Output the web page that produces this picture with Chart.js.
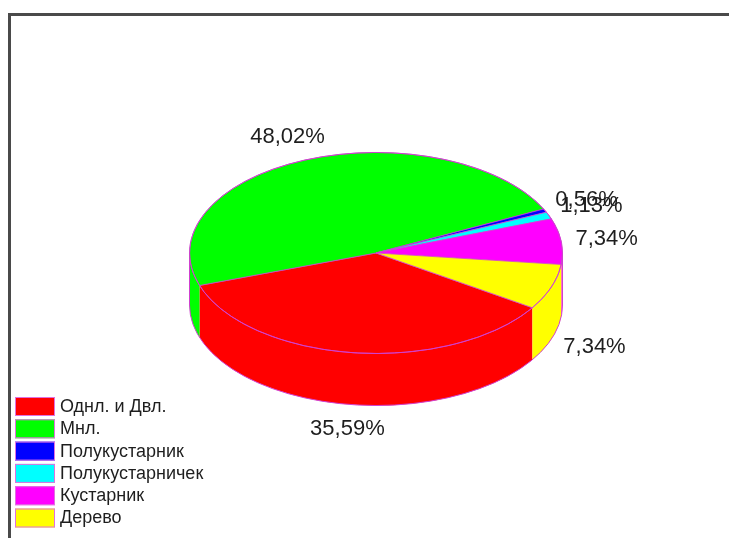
<!DOCTYPE html>
<html lang="ru">
<head>
<meta charset="utf-8">
<title>Жизненные формы</title>
<script src="https://cdn.jsdelivr.net/npm/chart.js@4.4.0/dist/chart.umd.min.js"></script>
<style>
  html, body { margin: 0; padding: 0; background: #fff; }
  #wrap { width: 729px; height: 538px; }
</style>
</head>
<body>
<div id="wrap"><canvas id="lifeForms" width="729" height="538"></canvas></div>
<script>
// Доли жизненных форм, %
const categories = ['Однл. и Двл.', 'Мнл.', 'Полукустарник', 'Полукустарничек', 'Кустарник', 'Дерево'];
const shares = [35.59, 48.02, 0.56, 1.13, 7.34, 7.34];
const sliceColors = ['#ff0000', '#00ff00', '#0000ff', '#00ffff', '#ff00ff', '#ffff00'];

const EDGE = '#d040d0';
const TILT = 0.539;   // how much the top disc is flattened
const DEPTH = 52;     // height of the side wall, px
const LABEL_FONT = '22px "Liberation Sans", Arial, sans-serif';
const LEGEND_FONT = '18px "Liberation Sans", Arial, sans-serif';

function fmt(v) {
    return v.toFixed(2).replace('.', ',') + '%';
}

// only the front half of the disc (0..PI) shows its wall
function frontParts(start, end) {
    const parts = [];
    for (let k = -1; k <= 2; k++) {
        const a = Math.max(start, 2 * Math.PI * k);
        const b = Math.min(end, 2 * Math.PI * k + Math.PI);
        if (b > a) parts.push([a, b]);
    }
    return parts;
}

const pie3d = {
    id: 'pie3d',
    beforeDraw(chart) {
        // frame on top and left
        const ctx = chart.ctx;
        ctx.save();
        ctx.strokeStyle = '#4a4a4a';
        ctx.lineWidth = 3;
        ctx.beginPath();
        ctx.moveTo(9.5, 538);
        ctx.lineTo(9.5, 14.5);
        ctx.lineTo(729, 14.5);
        ctx.stroke();
        ctx.restore();
    },
    beforeDatasetsDraw(chart) {
        const ctx = chart.ctx;
        const arcs = chart.getDatasetMeta(0).data;
        const { x, y, outerRadius: r } = arcs[0];
        const ry = r * TILT;

        // side walls
        ctx.save();
        arcs.forEach((arc, i) => {
            frontParts(arc.startAngle, arc.endAngle).forEach(([a, b]) => {
                ctx.beginPath();
                ctx.ellipse(x, y, r, ry, 0, a, b, false);
                ctx.ellipse(x, y + DEPTH, r, ry, 0, b, a, true);
                ctx.closePath();
                ctx.fillStyle = sliceColors[i];
                ctx.fill();
            });
        });
        ctx.strokeStyle = EDGE;
        ctx.lineWidth = 1;
        ctx.beginPath();
        ctx.ellipse(x, y + DEPTH, r, ry, 0, 0, Math.PI, false);
        ctx.stroke();
        ctx.beginPath();
        ctx.moveTo(x + r, y);
        ctx.lineTo(x + r, y + DEPTH);
        ctx.moveTo(x - r, y);
        ctx.lineTo(x - r, y + DEPTH);
        ctx.stroke();
        ctx.restore();

        // flatten the pie top
        ctx.save();
        ctx.translate(x, y);
        ctx.scale(1, TILT);
        ctx.translate(-x, -y);
    },
    afterDatasetsDraw(chart) {
        const ctx = chart.ctx;
        ctx.restore();

        const arcs = chart.getDatasetMeta(0).data;
        const { x, y, outerRadius: r } = arcs[0];
        const ry = r * TILT;

        ctx.save();
        ctx.strokeStyle = EDGE;
        ctx.lineWidth = 1;
        ctx.beginPath();
        ctx.ellipse(x, y, r, ry, 0, 0, 2 * Math.PI);
        ctx.stroke();

        // percentage labels outside the disc
        const lr = r * 1.245;
        ctx.font = LABEL_FONT;
        ctx.fillStyle = '#1e1e1e';
        ctx.textAlign = 'center';
        ctx.textBaseline = 'middle';
        arcs.forEach((arc, i) => {
            const mid = (arc.startAngle + arc.endAngle) / 2;
            const s = Math.sin(mid);
            const lx = x + lr * Math.cos(mid);
            const ly = y + lr * TILT * s + (s > 0 ? DEPTH : 0);
            ctx.fillText(fmt(shares[i]), lx, ly);
        });
        ctx.restore();
    },
    afterDraw(chart) {
        // legend in the lower left corner
        const ctx = chart.ctx;
        ctx.save();
        ctx.font = LEGEND_FONT;
        ctx.textAlign = 'left';
        ctx.textBaseline = 'middle';
        categories.forEach((name, i) => {
            const top = 397 + i * 22.3;
            ctx.fillStyle = sliceColors[i];
            ctx.fillRect(15, top, 40, 19);
            ctx.strokeStyle = '#e070e0';
            ctx.lineWidth = 1;
            ctx.strokeRect(15.5, top + 0.5, 39, 18);
            ctx.fillStyle = '#1e1e1e';
            ctx.fillText(name, 60, top + 10);
        });
        ctx.restore();
    }
};

new Chart(document.getElementById('lifeForms'), {
    type: 'pie',
    data: {
        labels: categories,
        datasets: [{
            data: shares,
            backgroundColor: sliceColors,
            borderColor: EDGE,
            borderWidth: 1
        }]
    },
    options: {
        responsive: false,
        animation: false,
        rotation: 123,
        layout: {
            padding: { left: 189, right: 166, top: 66, bottom: 98 }
        },
        plugins: {
            legend: { display: false },
            tooltip: { enabled: false }
        }
    },
    plugins: [pie3d]
});
</script>
</body>
</html>
